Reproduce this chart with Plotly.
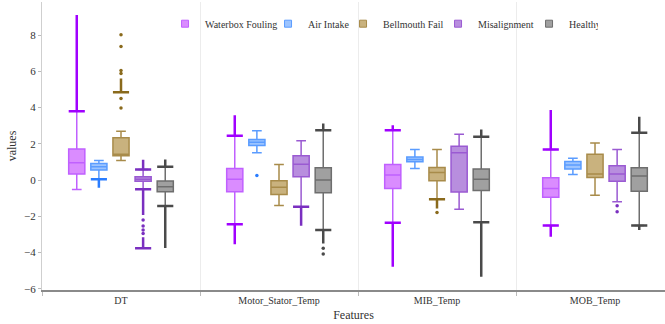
import plotly.graph_objects as go

features = ["DT", "Motor_Stator_Temp", "MIB_Temp", "MOB_Temp"]
classes = ["Waterbox Fouling", "Air Intake", "Bellmouth Fail", "Misalignment", "Healthy"]

# box statistics per class, one value per feature
wf_q1 = [0.33, -0.64, -0.46, -0.94]
wf_med = [0.95, 0.05, 0.28, -0.46]
wf_q3 = [1.71, 0.64, 0.86, 0.13]
wf_lo = [-0.52, -2.44, -2.35, -2.50]
wf_hi = [3.80, 2.44, 2.75, 1.69]

ai_q1 = [0.55, 1.91, 1.01, 0.61]
ai_med = [0.73, 2.08, 1.14, 0.83]
ai_q3 = [0.92, 2.24, 1.28, 1.03]
ai_lo = [0.05, 1.51, 0.64, 0.31]
ai_hi = [1.08, 2.72, 1.69, 1.21]

bf_q1 = [1.34, -0.79, -0.04, 0.15]
bf_med = [1.43, -0.39, 0.42, 0.33]
bf_q3 = [2.33, -0.04, 0.70, 1.43]
bf_lo = [1.08, -1.40, -1.05, -0.83]
bf_hi = [2.70, 0.86, 1.69, 2.04]

ma_q1 = [-0.07, 0.18, -0.66, -0.06]
ma_med = [0.05, 0.88, 1.51, 0.33]
ma_q3 = [0.18, 1.34, 1.87, 0.79]
ma_lo = [-0.51, -1.47, -1.61, -1.19]
ma_hi = [0.59, 2.17, 2.53, 1.69]

he_q1 = [-0.64, -0.70, -0.57, -0.61]
he_med = [-0.37, 0.00, 0.04, 0.22]
he_q3 = [-0.05, 0.68, 0.61, 0.68]
he_lo = [-1.43, -2.75, -2.33, -2.50]
he_hi = [0.73, 2.75, 2.39, 2.61]

# dense outlier runs: (feature, start, far end)
wf_dense = [("DT", 3.80, 9.10), ("Motor_Stator_Temp", 2.44, 3.58), ("Motor_Stator_Temp", -2.44, -3.54),
            ("MIB_Temp", 2.75, 3.03), ("MIB_Temp", -2.35, -4.78),
            ("MOB_Temp", 1.69, 3.86), ("MOB_Temp", -2.50, -3.12)]
ai_dense = [("DT", 0.05, -0.42)]
bf_dense = [("DT", 4.85, 5.60), ("MIB_Temp", -1.05, -1.56)]
ma_dense = [("DT", 0.59, 1.12), ("DT", -0.51, -1.93), ("DT", -3.76, -3.15),
            ("Motor_Stator_Temp", -1.47, -2.52)]
he_dense = [("DT", 0.73, 1.14), ("DT", -1.43, -3.75), ("Motor_Stator_Temp", 2.75, 3.12),
            ("Motor_Stator_Temp", -2.75, -3.49), ("MIB_Temp", 2.39, 2.79), ("MIB_Temp", -2.33, -5.33),
            ("MOB_Temp", 2.61, 3.49), ("MOB_Temp", -2.50, -2.75)]

# isolated outliers
wf_pts_x, wf_pts_y = [], []
ai_pts_x, ai_pts_y = ["Motor_Stator_Temp"], [0.26]
bf_pts_x = ["DT"] * 6 + ["MIB_Temp"]
bf_pts_y = [8.02, 7.36, 6.04, 5.88, 4.50, 3.98, -1.78]
ma_pts_x = ["DT"] * 4 + ["MOB_Temp"] * 2
ma_pts_y = [-2.20, -2.53, -2.75, -2.94, -1.41, -1.74]
he_pts_x = ["Motor_Stator_Temp"] * 2
he_pts_y = [-3.76, -4.08]

stats = {
    "Waterbox Fouling": (wf_q1, wf_med, wf_q3, wf_lo, wf_hi, wf_dense, wf_pts_x, wf_pts_y),
    "Air Intake": (ai_q1, ai_med, ai_q3, ai_lo, ai_hi, ai_dense, ai_pts_x, ai_pts_y),
    "Bellmouth Fail": (bf_q1, bf_med, bf_q3, bf_lo, bf_hi, bf_dense, bf_pts_x, bf_pts_y),
    "Misalignment": (ma_q1, ma_med, ma_q3, ma_lo, ma_hi, ma_dense, ma_pts_x, ma_pts_y),
    "Healthy": (he_q1, he_med, he_q3, he_lo, he_hi, he_dense, he_pts_x, he_pts_y),
}

styles = {
    "Waterbox Fouling": dict(line="#c060ff", fill="#da8cff", mark="#a000ff", lw=58),
    "Air Intake": dict(line="#5a9cff", fill="#9cc4ff", mark="#2a7dff", lw=30),
    "Bellmouth Fail": dict(line="#a88b4a", fill="#c9b27e", mark="#8a6a1c", lw=50),
    "Misalignment": dict(line="#9a5ad2", fill="#b88ede", mark="#7a2fc0", lw=46),
    "Healthy": dict(line="#6e6e6e", fill="#a0a0a0", mark="#4a4a4a", lw=24),
}

FONT = "Liberation Serif"

fig = go.Figure()
for name in classes:
    q1, med, q3, lo, hi, dense, px_, py_ = stats[name]
    st = styles[name]
    fig.add_trace(go.Box(
        name=name, x=features, q1=q1, median=med, q3=q3, lowerfence=lo, upperfence=hi,
        offsetgroup=name, legendgroup=name, boxpoints=False, showlegend=False,
        line=dict(color=st["line"], width=1.5), fillcolor=st["fill"], whiskerwidth=0.6,
    ))
    for feat, a, b in dense:
        fig.add_trace(go.Box(
            name=name, x=[feat], q1=[a], median=[a], q3=[a],
            lowerfence=[min(a, b)], upperfence=[max(a, b)],
            offsetgroup=name, legendgroup=name, showlegend=False, boxpoints=False,
            line=dict(color=st["mark"], width=2.5), fillcolor="rgba(0,0,0,0)", whiskerwidth=0,
            hoverinfo="skip",
        ))
    if px_:
        fig.add_trace(go.Box(
            name=name, x=px_, y=py_, offsetgroup=name, legendgroup=name, showlegend=False,
            boxpoints="all", jitter=0, pointpos=0,
            marker=dict(color=st["mark"], size=3.5),
            line=dict(color="rgba(0,0,0,0)", width=0), fillcolor="rgba(0,0,0,0)",
            hoverinfo="skip",
        ))

# legend entries (small square swatches)
for name in classes:
    st = styles[name]
    fig.add_trace(go.Scatter(
        name=name, x=[None], y=[None], mode="markers", legendgroup=name,
        legendwidth=st["lw"], showlegend=True,
        marker=dict(symbol="square", size=7, color=st["fill"], line=dict(color=st["line"], width=1)),
    ))

fig.update_layout(
    width=665, height=324,
    margin=dict(l=42, r=0, t=2, b=34),
    paper_bgcolor="white", plot_bgcolor="white",
    boxmode="group", boxgap=0.30, boxgroupgap=0.27,
    font=dict(family=FONT, size=11, color="#333"),
    legend=dict(orientation="h", x=0.545, xanchor="center", y=0.975, yanchor="top",
                font=dict(family=FONT, size=10, color="#333"), bgcolor="rgba(0,0,0,0)",
                itemclick=False),
    xaxis=dict(
        title=dict(text="Features", font=dict(family=FONT, size=12, color="#333"), standoff=6),
        range=[-0.5, 3.443], showline=True, linecolor="#8a8a8a", linewidth=2,
        ticks="outside", tickson="boundaries", ticklen=4, tickcolor="#bbb",
        showgrid=True, gridcolor="#ececec", gridwidth=1,
        tickfont=dict(family=FONT, size=10, color="#333"),
    ),
    yaxis=dict(
        title=dict(text="values", font=dict(family=FONT, size=12, color="#333"), standoff=4),
        range=[-6.06, 9.82], dtick=2, showline=True, linecolor="#cfcfcf", linewidth=1,
        ticks="outside", ticklen=3, tickcolor="#bbb", showgrid=False, zeroline=False,
        tickfont=dict(family=FONT, size=11, color="#333"),
    ),
)

fig.write_html("out.html", config={"displayModeBar": False},
               post_script="document.body.style.margin='0';")
